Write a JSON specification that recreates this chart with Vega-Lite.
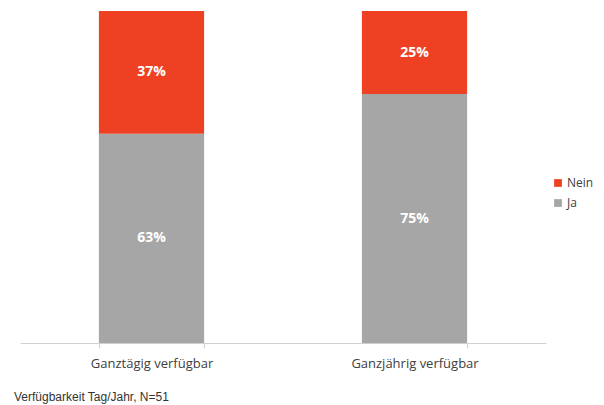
{
  "$schema": "https://vega.github.io/schema/vega-lite/v6.json",
  "width": 526,
  "height": 332,
  "autosize": {"type": "none"},
  "padding": {"left": 20, "top": 11, "right": 58, "bottom": 62},
  "background": "white",
  "config": {"view": {"stroke": null}},
  "title": {
    "text": "Verfügbarkeit Tag/Jahr, N=51",
    "orient": "bottom",
    "anchor": "start",
    "font": "Liberation Sans",
    "fontSize": 12,
    "fontWeight": "normal",
    "color": "#333333",
    "dx": -6,
    "offset": 22
  },
  "data": {
    "values": [
      {"Kategorie": "Ganztägig verfügbar", "Antwort": "Ja", "value": 0.63},
      {"Kategorie": "Ganztägig verfügbar", "Antwort": "Nein", "value": 0.37},
      {"Kategorie": "Ganzjährig verfügbar", "Antwort": "Ja", "value": 0.75},
      {"Kategorie": "Ganzjährig verfügbar", "Antwort": "Nein", "value": 0.25}
    ]
  },
  "encoding": {
    "x": {
      "field": "Kategorie",
      "type": "nominal",
      "sort": ["Ganztägig verfügbar", "Ganzjährig verfügbar"],
      "scale": {"paddingInner": 0.6, "paddingOuter": 0.3},
      "axis": {
        "title": null,
        "labelAngle": 0,
        "labelFont": "Open Sans",
        "labelFontSize": 13,
        "labelColor": "#404040",
        "labelPadding": 9,
        "domainColor": "#d0d0d0",
        "tickColor": "#d0d0d0",
        "tickBand": "extent",
        "tickSize": 5,
        "grid": false
      }
    },
    "y": {
      "field": "value",
      "type": "quantitative",
      "stack": "zero",
      "scale": {"domain": [0, 1]},
      "axis": null
    },
    "order": {"field": "Antwort", "sort": "ascending"}
  },
  "layer": [
    {
      "mark": {"type": "bar"},
      "encoding": {
        "color": {
          "field": "Antwort",
          "type": "nominal",
          "scale": {"domain": ["Nein", "Ja"], "range": ["#EE4123", "#A6A6A6"]},
          "legend": {
            "title": null,
            "orient": "none",
            "legendX": 532,
            "legendY": 166,
            "symbolType": "square",
            "symbolSize": 60,
            "symbolStrokeWidth": 0,
            "labelFont": "Open Sans",
            "labelFontSize": 12,
            "labelColor": "#404040",
            "labelOffset": 3,
            "rowPadding": 8
          }
        }
      }
    },
    {
      "mark": {"type": "text", "color": "white", "font": "Open Sans", "fontWeight": "bold", "fontSize": 14, "baseline": "middle"},
      "encoding": {
        "y": {"field": "value", "type": "quantitative", "stack": "zero", "bandPosition": 0.5},
        "text": {"field": "value", "type": "quantitative", "format": ".0%"}
      }
    }
  ]
}
